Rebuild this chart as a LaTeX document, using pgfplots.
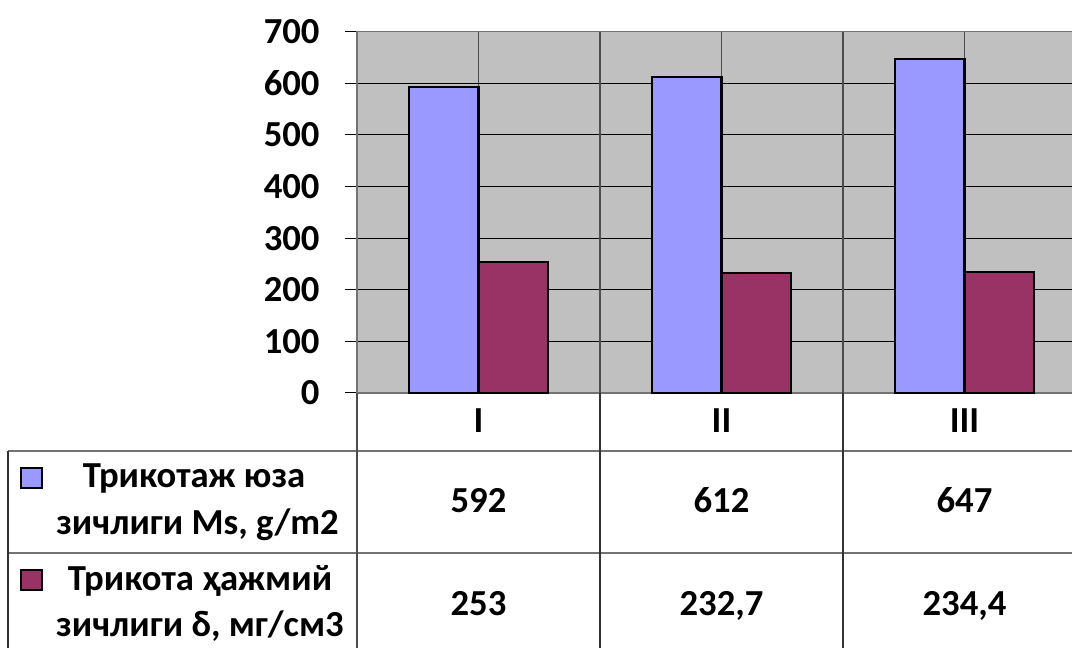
\documentclass[border=0pt]{standalone}
\usepackage{fontspec}
\setmainfont{Carlito}
\usepackage{pgfplots}
\pgfplotsset{compat=1.18}
\definecolor{sblue}{HTML}{9999FF}
\definecolor{smaroon}{HTML}{993366}
\definecolor{plotgray}{HTML}{C0C0C0}
\begin{document}
\fontsize{27.5}{33}\selectfont\bfseries
\begin{tikzpicture}
\useasboundingbox (0,0) rectangle (804pt,-486pt);
\clip (0,0) rectangle (804pt,-486pt);
\begin{axis}[
  at={(267.75pt,-294.75pt)}, anchor=south west,
  scale only axis, width=546.75pt, height=271pt,
  xmin=-0.5, xmax=2.5, ymin=0, ymax=700,
  axis background/.style={fill=plotgray},
  axis line style={draw=black!55, line width=1pt},
  ytick={0,100,...,700},
  xtick={0,1,2}, xticklabels={I,II,III},
  ytick pos=left, xtick pos=bottom,
  tick align=outside, major tick length=9pt,
  ytick style={draw=black, line width=0.75pt},
  xtick style={draw=none},
  /pgf/number format/assume math mode=true,
  tick label style={font=\fontsize{27.5}{33}\selectfont\bfseries},
  yticklabel style={anchor=east, xshift=-9.75pt},
  xticklabel style={anchor=base, yshift=-20.5pt},
  ymajorgrids, major y grid style={black, line width=0.75pt},
  xmajorgrids, major x grid style={black!70, line width=1pt},
  extra x ticks={0.5,1.5}, extra x tick labels={},
  extra x tick style={grid=major},
  clip=false,
]
\addplot[ybar, bar width=0.2857, bar shift=-0.142857, fill=sblue, draw=black, line width=1.6pt]
  coordinates {(0,592) (1,612) (2,647)};
\addplot[ybar, bar width=0.2857, bar shift=0.142857, fill=smaroon, draw=black, line width=1.6pt]
  coordinates {(0,253) (1,232.7) (2,234.4)};
\end{axis}
\begin{scope}[x=0.75pt,y=-0.75pt]
  % data table grid
  \draw[black!55, line width=0.9pt] (8,451) -- (1072,451);
  \draw[black!55, line width=0.9pt] (8,553) -- (1072,553);
  \draw[black!80, line width=0.9pt] (8,451) -- (8,648);
  \draw[black!70, line width=0.9pt] (357,393) -- (357,648);
  \draw[black!80, line width=0.9pt] (600,393) -- (600,648);
  \draw[black!80, line width=0.9pt] (843,393) -- (843,648);
  % legend keys
  \draw[fill=sblue, line width=1.2pt] (21,468) rectangle (42,488);
  \draw[fill=smaroon, line width=1.2pt] (21,570) rectangle (42,590);
  % legend texts
  \node[anchor=base, inner sep=0pt] at (194,488) {Трикотаж юза};
  \node[anchor=base, inner sep=0pt] at (197.5,535) {зичлиги Ms, g/m2};
  \node[anchor=base, inner sep=0pt] at (200,590) {Трикота ҳажмий};
  \node[anchor=base, inner sep=0pt] at (200,637) {зичлиги δ, мг/см3};
  % table values
  \node[anchor=base, inner sep=0pt] at (478.5,513) {592};
  \node[anchor=base, inner sep=0pt] at (721.5,513) {612};
  \node[anchor=base, inner sep=0pt] at (964.5,513) {647};
  \node[anchor=base, inner sep=0pt] at (478.5,615) {253};
  \node[anchor=base, inner sep=0pt] at (721.5,615) {232,7};
  \node[anchor=base, inner sep=0pt] at (964.5,615) {234,4};
\end{scope}
\end{tikzpicture}
\end{document}
